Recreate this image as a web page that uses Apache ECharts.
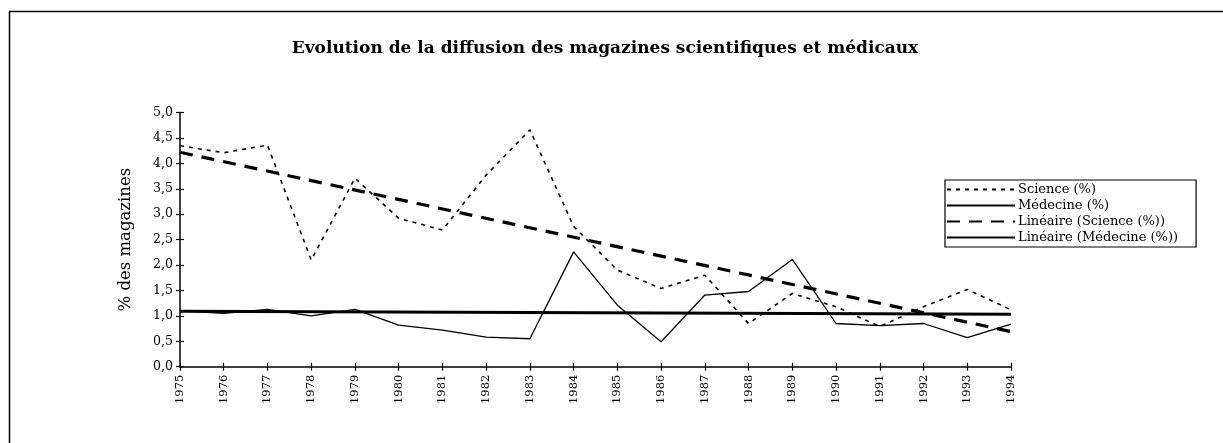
<!DOCTYPE html>
<html>
<head>
<meta charset="utf-8">
<script src="https://cdn.jsdelivr.net/npm/echarts@6/dist/echarts.min.js"></script>
<style>html,body{margin:0;padding:0;background:#fff}#c{width:1223px;height:443px}</style>
</head>
<body>
<div id="c"></div>
<script>
var years = ['1975','1976','1977','1978','1979','1980','1981','1982','1983','1984','1985','1986','1987','1988','1989','1990','1991','1992','1993','1994'];
var science = [4.35,4.21,4.36,2.10,3.71,2.92,2.69,3.77,4.66,2.76,1.90,1.54,1.80,0.85,1.44,1.18,0.79,1.18,1.52,1.12];
var medecine = [1.10,1.05,1.13,1.00,1.13,0.82,0.72,0.58,0.55,2.26,1.21,0.49,1.41,1.48,2.11,0.85,0.81,0.85,0.57,0.84];
var trendScience = [4.22,null,null,null,null,null,null,null,null,null,null,null,null,null,null,null,null,null,null,0.69];
var trendMedecine = [1.09,null,null,null,null,null,null,null,null,null,null,null,null,null,null,null,null,null,null,1.03];
var yTicks = ['0,0','0,5','1,0','1,5','2,0','2,5','3,0','3,5','4,0','4,5','5,0'];

var serif = '"DejaVu Serif","Liberation Serif",serif';
var chart = echarts.init(document.getElementById('c'));
chart.setOption({
  animation: false,
  backgroundColor: '#fff',
  title: {
    text: 'Evolution de la diffusion des magazines scientifiques et médicaux',
    left: 600, top: 35, textAlign: 'center',
    textStyle: {fontFamily: serif, fontSize: 17, fontWeight: 'bold', color: '#000'}
  },
  graphic: [
    {type: 'line', shape: {x1: 9, y1: 11.5, x2: 1223, y2: 11.5}, style: {stroke: '#000', lineWidth: 1.5}},
    {type: 'line', shape: {x1: 9.5, y1: 11, x2: 9.5, y2: 443}, style: {stroke: '#000', lineWidth: 1.5}}
  ],
  legend: {
    orient: 'vertical',
    left: 945, top: 180,
    padding: [3, 18, 3, 1],
    itemGap: 3,
    itemWidth: 68, itemHeight: 13,
    itemStyle: {opacity: 0},
    borderColor: '#000', borderWidth: 1.2, borderRadius: 0,
    textStyle: {fontFamily: serif, fontSize: 13, color: '#000', padding: [0, 0, 0, -2]},
    data: ['Science (%)','Médecine (%)','Linéaire (Science (%))','Linéaire (Médecine (%))']
  },
  grid: {left: 180, right: 212, top: 112.6, bottom: 76.3, containLabel: false},
  xAxis: [{
    type: 'category', data: years, boundaryGap: false,
    axisLine: {lineStyle: {color: '#000', width: 1.5}},
    axisTick: {show: true, length: 4, lineStyle: {color: '#000', width: 1.2}},
    axisLabel: {rotate: 90, fontFamily: serif, fontSize: 11.5, color: '#000', margin: 8, interval: 0}
  }, {
    type: 'category', data: years, boundaryGap: false, position: 'bottom',
    axisLine: {show: false},
    axisTick: {show: true, inside: true, length: 4, lineStyle: {color: '#000', width: 1.2}},
    axisLabel: {show: false}
  }],
  yAxis: [{
    type: 'value', min: 0, max: 5, interval: 0.5,
    name: '% des magazines', nameLocation: 'middle', nameGap: 46, nameRotate: 90,
    nameTextStyle: {fontFamily: serif, fontSize: 16.5, color: '#000'},
    splitLine: {show: false},
    axisLine: {show: true, lineStyle: {color: '#000', width: 1.5}},
    axisTick: {show: true, length: 4, lineStyle: {color: '#000', width: 1.2}},
    axisLabel: {fontFamily: serif, fontSize: 12.5, color: '#000', margin: 7,
      formatter: function (v) { return yTicks[Math.round(v * 2)]; }}
  }, {
    type: 'value', min: 0, max: 5, interval: 0.5, position: 'left',
    splitLine: {show: false},
    axisLine: {show: false},
    axisTick: {show: true, inside: true, length: 4, lineStyle: {color: '#000', width: 1.2}},
    axisLabel: {show: false}
  }],
  series: [
    {name: 'Science (%)', type: 'line', data: science, symbol: 'none', showSymbol: false,
     itemStyle: {color: '#000'},
     lineStyle: {color: '#000', width: 1.6, type: [4, 5]}},
    {name: 'Médecine (%)', type: 'line', data: medecine, symbol: 'none', showSymbol: false,
     itemStyle: {color: '#000'},
     lineStyle: {color: '#000', width: 1.3, type: 'solid'}},
    {name: 'Linéaire (Science (%))', type: 'line', data: trendScience, connectNulls: true, symbol: 'none', showSymbol: false,
     itemStyle: {color: '#000'},
     lineStyle: {color: '#000', width: 3.2, type: [13, 9]}},
    {name: 'Linéaire (Médecine (%))', type: 'line', data: trendMedecine, connectNulls: true, symbol: 'none', showSymbol: false,
     itemStyle: {color: '#000'},
     lineStyle: {color: '#000', width: 3, type: 'solid'}}
  ]
});
</script>
</body>
</html>
